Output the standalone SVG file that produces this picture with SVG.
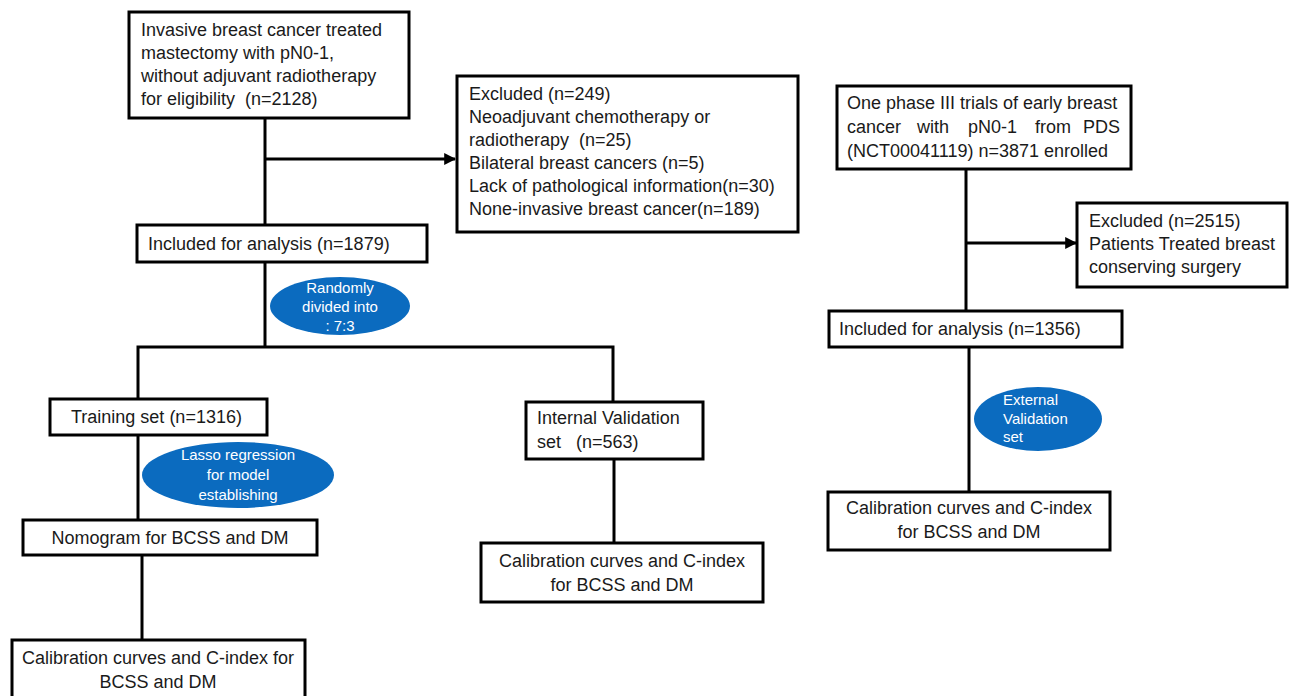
<svg xmlns="http://www.w3.org/2000/svg" width="1289" height="696" viewBox="0 0 1289 696">
<style>
.box{fill:#fff;stroke:#000;stroke-width:3}
.t{font-family:"Liberation Sans",Arial,sans-serif;font-size:18px;fill:#1a1a1a}
.c{text-anchor:middle}
.ell{fill:#0b6bbf}
.et{font-family:"Liberation Sans",Arial,sans-serif;font-size:15px;fill:#fff}
.ln{fill:none;stroke:#000;stroke-width:3}
</style>
<defs>
<marker id="ah" viewBox="0 0 10 10" refX="9" refY="5" markerWidth="4" markerHeight="4" orient="auto" markerUnits="strokeWidth">
<path d="M0,0 L10,5 L0,10 z" fill="#000"/>
</marker>
</defs>
<g id="connectors">
<line class="ln" x1="265" y1="118" x2="265" y2="225"/>
<line class="ln" x1="265" y1="159" x2="455" y2="159" marker-end="url(#ah)"/>
<line class="ln" x1="265" y1="262" x2="265" y2="347"/>
<polyline class="ln" points="138,399 138,347 613,347 613,402"/>
<line class="ln" x1="138" y1="435" x2="138" y2="520"/>
<line class="ln" x1="142" y1="555" x2="142" y2="640"/>
<line class="ln" x1="614" y1="459" x2="614" y2="543"/>
<line class="ln" x1="966" y1="169" x2="966" y2="311"/>
<line class="ln" x1="966" y1="243" x2="1076" y2="243" marker-end="url(#ah)"/>
<line class="ln" x1="969" y1="347" x2="969" y2="492"/>
</g>
<g id="n1">
<rect class="box" x="129" y="12" width="280" height="106"/>
<text class="t" x="141" y="36">Invasive breast cancer treated</text>
<text class="t" x="141" y="59">mastectomy with pN0-1,</text>
<text class="t" x="141" y="82">without adjuvant radiotherapy</text>
<text class="t" x="141" y="105" xml:space="preserve">for eligibility  (n=2128)</text>
</g>
<g id="n2">
<rect class="box" x="457" y="76" width="341" height="156"/>
<text class="t" x="469" y="100">Excluded (n=249)</text>
<text class="t" x="469" y="123">Neoadjuvant chemotherapy or</text>
<text class="t" x="469" y="146" xml:space="preserve">radiotherapy  (n=25)</text>
<text class="t" x="469" y="169">Bilateral breast cancers (n=5)</text>
<text class="t" x="469" y="192">Lack of pathological information(n=30)</text>
<text class="t" x="469" y="215">None-invasive breast cancer(n=189)</text>
</g>
<g id="n3">
<rect class="box" x="137" y="225" width="290" height="37"/>
<text class="t" x="148" y="250">Included for analysis (n=1879)</text>
</g>
<g id="e1">
<ellipse class="ell" cx="340" cy="306" rx="70" ry="29"/>
<text class="et c" x="340" y="293">Randomly</text>
<text class="et c" x="340" y="312">divided into</text>
<text class="et c" x="340" y="331">: 7:3</text>
</g>
<g id="n4">
<rect class="box" x="50" y="399" width="217" height="36"/>
<text class="t" x="71" y="423">Training set (n=1316)</text>
</g>
<g id="e2">
<ellipse class="ell" cx="238" cy="475" rx="96" ry="33"/>
<text class="et c" x="238" y="460">Lasso regression</text>
<text class="et c" x="238" y="480">for model</text>
<text class="et c" x="238" y="500">establishing</text>
</g>
<g id="n5">
<rect class="box" x="23" y="520" width="294" height="35"/>
<text class="t c" x="170" y="544">Nomogram for BCSS and DM</text>
</g>
<g id="n6">
<rect class="box" x="12" y="640" width="293" height="70"/>
<text class="t c" x="158" y="664">Calibration curves and C-index for</text>
<text class="t c" x="158" y="688">BCSS and DM</text>
</g>
<g id="n7">
<rect class="box" x="526" y="402" width="177" height="57"/>
<text class="t" x="537" y="424">Internal Validation</text>
<text class="t" x="537" y="448" xml:space="preserve">set   (n=563)</text>
</g>
<g id="n8">
<rect class="box" x="481" y="543" width="282" height="59"/>
<text class="t c" x="622" y="567">Calibration curves and C-index</text>
<text class="t c" x="622" y="591">for BCSS and DM</text>
</g>
<g id="n9">
<rect class="box" x="837" y="86" width="294" height="83"/>
<text class="t" x="847" y="109">One phase III trials of early breast</text>
<text class="t" x="847" y="133">cancer</text>
<text class="t" x="917" y="133">with</text>
<text class="t" x="968" y="133">pN0-1</text>
<text class="t" x="1035" y="133">from</text>
<text class="t" x="1120" y="133" text-anchor="end">PDS</text>
<text class="t" x="847" y="157">(NCT00041119) n=3871 enrolled</text>
</g>
<g id="n10">
<rect class="box" x="1077" y="203" width="210" height="84"/>
<text class="t" x="1089" y="227">Excluded (n=2515)</text>
<text class="t" x="1089" y="250">Patients Treated breast</text>
<text class="t" x="1089" y="273">conserving surgery</text>
</g>
<g id="n11">
<rect class="box" x="829" y="311" width="293" height="36"/>
<text class="t" x="839" y="335">Included for analysis (n=1356)</text>
</g>
<g id="e3">
<ellipse class="ell" cx="1038" cy="419" rx="64" ry="32"/>
<text class="et" x="1003" y="405">External</text>
<text class="et" x="1003" y="424">Validation</text>
<text class="et" x="1003" y="442">set</text>
</g>
<g id="n12">
<rect class="box" x="828" y="492" width="282" height="58"/>
<text class="t c" x="969" y="514">Calibration curves and C-index</text>
<text class="t c" x="969" y="538">for BCSS and DM</text>
</g>
</svg>
